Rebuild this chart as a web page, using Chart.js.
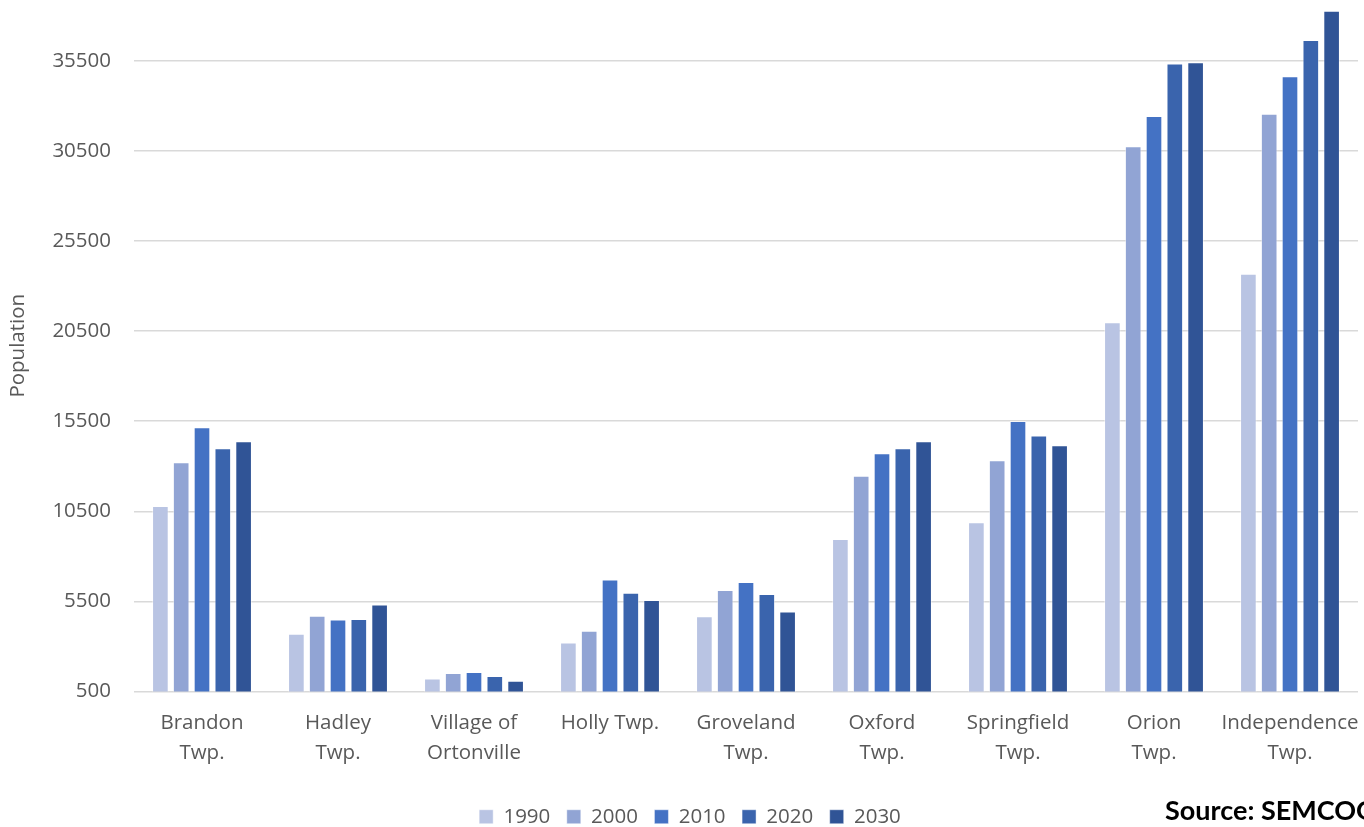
<!DOCTYPE html>
<html>
<head>
<meta charset="utf-8">
<title>Population by community, 1990–2030</title>
<script src="https://cdn.jsdelivr.net/npm/chart.js@4"></script>
<style>
  html, body { margin: 0; padding: 0; background: #ffffff; overflow: hidden; }
  #wrap { position: relative; width: 1364px; height: 827px; }
</style>
</head>
<body>
<div id="wrap"><canvas id="chart"></canvas></div>
<script>
// Communities along the category axis
const communities = [
  ['Brandon', 'Twp.'],
  ['Hadley', 'Twp.'],
  ['Village of', 'Ortonville'],
  ['Holly Twp.'],
  ['Groveland', 'Twp.'],
  ['Oxford', 'Twp.'],
  ['Springfield', 'Twp.'],
  ['Orion', 'Twp.'],
  ['Independence', 'Twp.']
];

// Population per census year / forecast
const pop1990 = [10800, 3710, 1220, 3220, 4670, 8970, 9890, 21000, 23680];
const pop2000 = [13220, 4710, 1520, 3870, 6130, 12480, 13330, 30760, 32560];
const pop2010 = [15170, 4500, 1580, 6720, 6580, 13720, 15520, 32440, 34650];
const pop2020 = [14000, 4520, 1360, 5980, 5910, 14000, 14710, 35360, 36660];
const pop2030 = [14390, 5330, 1090, 5580, 4940, 14390, 14170, 35430, 38290];

const years = ['1990', '2000', '2010', '2020', '2030'];
const yTicks = [500, 5500, 10500, 15500, 20500, 25500, 30500, 35500];

const series = [pop1990, pop2000, pop2010, pop2020, pop2030];
const colors = ['#B9C4E3', '#91A4D4', '#4472C4', '#3A64AD', '#305496'];

const FONT = '"Open Sans", "Noto Sans", sans-serif';
const TEXT = '#595959';

// Source note in the lower right corner
const sourceNote = {
  id: 'sourceNote',
  afterDraw(chart) {
    const ctx = chart.ctx;
    ctx.save();
    ctx.font = 'bold 27px Lato, "Open Sans", sans-serif';
    ctx.fillStyle = '#000000';
    ctx.textBaseline = 'middle';
    ctx.textAlign = 'left';
    ctx.fillText('Source: SEMCOG', 1165, 811);
    ctx.restore();
  }
};

// Center the legend over a slightly wider span than the plot
const legendSpan = {
  id: 'legendSpan',
  afterLayout(chart) {
    if (chart.legend) {
      chart.legend.right += 22;
      chart.legend.width += 22;
    }
  }
};

new Chart(document.getElementById('chart'), {
  type: 'bar',
  data: {
    labels: communities,
    datasets: years.map((y, i) => ({
      label: y,
      data: series[i],
      backgroundColor: colors[i],
      borderColor: 'rgba(255,255,255,0.45)',
      borderWidth: 1,
      categoryPercentage: 0.765,
      barPercentage: 0.8
    }))
  },
  options: {
    responsive: true,
    maintainAspectRatio: false,
    animation: false,
    layout: { padding: { left: 0, right: 6, top: 0, bottom: -10 } },
    plugins: {
      tooltip: { enabled: false },
      legend: {
        position: 'bottom',
        labels: {
          font: { family: FONT, size: 20.5 },
          color: TEXT,
          boxWidth: 14,
          boxHeight: 14,
          padding: 16.5
        }
      }
    },
    scales: {
      x: {
        grid: { display: false, drawTicks: false },
        border: { display: false },
        ticks: {
          font: { family: FONT, size: 20.5, lineHeight: 1.45 },
          color: TEXT,
          padding: 17,
          autoSkip: false,
          maxRotation: 0,
          minRotation: 0
        },
        afterFit(scale) {
          scale.height = 98.5;
          scale.paddingLeft = 0;
          scale.paddingRight = 0;
        }
      },
      y: {
        min: 500,
        max: 38880,
        grid: { color: '#D9D9D9', lineWidth: 1.5, drawTicks: false },
        border: { display: false },
        ticks: {
          font: { family: FONT, size: 20.5 },
          color: TEXT,
          padding: 23,
          callback: (v) => String(v)
        },
        afterBuildTicks(scale) {
          scale.ticks = yTicks.map(v => ({ value: v }));
        },
        afterFit(scale) {
          scale.width = 134;
          scale.paddingTop = 0;
          scale.paddingBottom = 0;
        },
        title: {
          display: true,
          text: 'Population',
          font: { family: FONT, size: 20.5 },
          color: TEXT,
          padding: { top: 6, bottom: 0 }
        }
      }
    }
  },
  plugins: [sourceNote, legendSpan]
});
</script>
</body>
</html>
